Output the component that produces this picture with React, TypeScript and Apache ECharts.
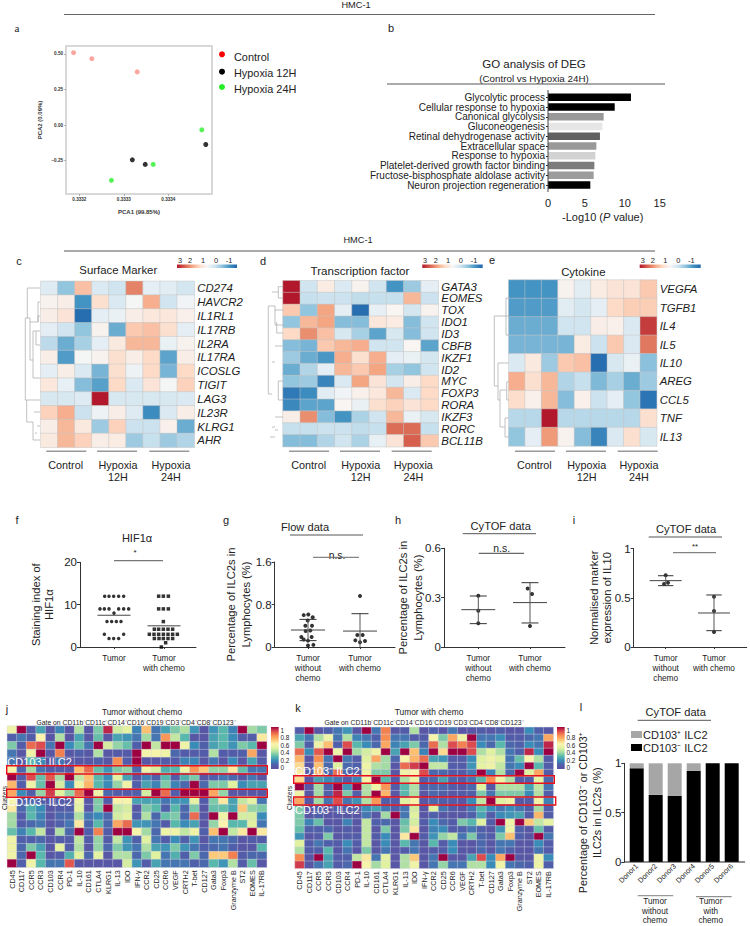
import React, { useEffect, useRef } from "react";
import * as echarts from "echarts";

const FONT = "'Liberation Sans', Arial, sans-serif";
const INK = "#222";

// ---------- a: PCA
const pcaControl = [[0.333187, 0.509], [0.333228, 0.467], [0.33333, 0.374]];
const pca12H = [[0.333319, -0.244], [0.333348, -0.276], [0.333484, -0.136]];
const pca24H = [[0.333475, -0.033], [0.333366, -0.276], [0.333272, -0.388]];
const pcaXTicks = [0.3332, 0.3333, 0.3334];
const pcaYTicks = [-0.25, 0, 0.25, 0.5];

// ---------- b: GO
const goTerms = ["Glycolytic process", "Cellular response to hypoxia", "Canonical glycolysis", "Gluconeogenesis", "Retinal dehydrogenase activity", "Extracellular space", "Response to hypoxia", "Platelet-derived growth factor binding", "Fructose-bisphosphate aldolase activity", "Neuron projection regeneration"];
const goValues = [9.9, 7.96, 6.64, 6.49, 6.2, 5.77, 5.65, 5.53, 5.45, 5.05];
const goShades = ["#000", "#000", "#999", "#e6e6e6", "#606060", "#999", "#d2d2d2", "#7c7c7c", "#9c9c9c", "#000"];

// ---------- c, d, e: heatmaps
const surfaceGenes = ["CD274", "HAVCR2", "IL1RL1", "IL17RB", "IL2RA", "IL17RA", "ICOSLG", "TIGIT", "LAG3", "IL23R", "KLRG1", "AHR"];
const surfaceValues = [
  [.4, -.4, 1.7, .35, .2, 2.3, .5, .45, .25],
  [.9, 1.0, -1.0, 1.3, .35, .75, 1.9, .2, .7],
  [1.0, 1.2, -1.5, .5, .6, 1.0, 1.15, 1.15, .95],
  [.5, .2, -.4, .9, -.7, 1.6, 1.7, 1.3, .5],
  [0, -.7, -.2, .5, 1.1, 1.8, 1.8, .6, .9],
  [1.0, -.9, .75, .9, 1.3, 1.0, 1.4, -.8, 1.0],
  [.5, 1.0, .35, -.6, 1.3, .65, 1.4, -.6, 1.4],
  [1.15, .55, -.5, -.85, 1.4, .35, 1.2, .75, 1.5],
  [.3, .3, .4, 3.2, .3, .3, .3, .3, .35],
  [1.5, 1.9, .15, .65, 1.0, .4, -1.1, .35, 1.0],
  [1.0, 1.8, 1.1, -.3, 1.5, .15, .15, .95, -.7],
  [1.1, 1.8, 1.5, 1.0, 1.05, -.3, .1, -.3, -.1],
];
const tfGenes = ["GATA3", "EOMES", "TOX", "IDO1", "ID3", "CBFB", "IKZF1", "ID2", "MYC", "FOXP3", "RORA", "IKZF3", "RORC", "BCL11B"];
const tfValues = [
  [3.2, .2, 1.05, .35, .9, .2, -1.0, -.3, .5],
  [3.2, .1, .15, .15, .05, .1, .1, 1.8, .15],
  [1.6, -.4, 2.0, .5, -1.5, .55, .85, .25, .9],
  [-.4, 1.8, 2.0, -.5, -.5, 1.15, 1.05, -.5, .2],
  [1.4, 2.2, 1.7, .3, -.2, -.8, .3, -.5, .2],
  [-.5, -.6, 1.6, 1.8, 1.9, .2, .2, .85, -.8],
  [-.3, -.7, -.95, 1.9, 1.3, 1.9, .5, .6, .25],
  [-.7, -.1, .5, 1.8, 1.6, 2.0, -.2, -.4, .2],
  [-.4, -.3, -1.2, .35, 2.0, 1.2, .25, 1.0, 1.4],
  [-1.35, -1.1, .45, .7, .95, 1.15, 1.8, .35, 1.4],
  [-1.15, -.8, -.8, .85, .6, 1.3, 1.5, 1.2, 1.4],
  [1.0, 2.2, -.5, -1.0, -.15, .2, 1.8, .6, .3],
  [.1, .1, .15, .15, .05, .1, 2.5, 2.5, .1],
  [-.5, -.5, -.1, .2, -.15, .55, 1.2, 2.6, 1.6],
];
const cytoGenes = ["VEGFA", "TGFB1", "IL4", "IL5", "IL10", "AREG", "CCL5", "TNF", "IL13"];
const cytoValues = [
  [-1.0, -1.0, -1.0, .9, .45, 1.05, 1.2, 1.2, 1.6],
  [-.9, -.9, -.9, .45, .25, .5, 1.4, 1.55, 1.55],
  [-.7, -.7, -.7, .2, .2, 1.0, .95, .35, 2.9],
  [-.6, -.6, -.6, -.6, 1.05, .15, 1.6, .35, 2.4],
  [.35, 1.1, -.3, 1.6, 1.7, -1.5, .3, .6, -.45],
  [1.9, 1.3, 1.8, -.1, .1, -.55, -.2, -.7, -.3],
  [1.35, .95, 1.8, -.5, .95, .15, .5, -.4, -1.4],
  [-.05, -.05, 3.2, -.05, -.05, -.05, -.05, -.05, 1.3],
  [-.4, .5, 2.1, .9, -.5, -1.2, .35, 1.3, .3],
];
const sampleColumns = ["C1", "C2", "C3", "H12-1", "H12-2", "H12-3", "H24-1", "H24-2", "H24-3"];
const heatTicks = ["3", "2", "1", "0", "-1"];
const zColors = ["#2166ac", "#4393c3", "#92c5de", "#d1e5f0", "#f7f7f7", "#fddbc7", "#f4a582", "#d6604d", "#b2182b"];

// ---------- f..i: dot plots
const fTumor = [[.813, 12], [.9, 12], [.993, 12], [1.093, 12], [1.193, 12], [.72, 9], [.807, 9], [.9, 9], [1.093, 9], [1.193, 9], [1.293, 9], [1, 8], [.86, 6], [.953, 6], [1.047, 6], [1.14, 6], [.807, 3], [1.193, 3], [.9, 2], [.993, 2], [1.093, 2]];
const fChemo = [[1.893, 12], [1.987, 12], [2.087, 12], [1.893, 9], [1.987, 9], [2.087, 9], [1.987, 6], [1.807, 4.2], [1.893, 4.2], [1.987, 4.2], [2.08, 4.2], [2.173, 4.2], [1.707, 3], [1.8, 3], [1.893, 3], [1.987, 3], [2.08, 3], [2.173, 3], [2.267, 3], [1.807, 2], [1.9, 2], [1.987, 2], [2.08, 2], [2.173, 2], [2.033, 1], [1.947, 0]];
const gTumor = [[.917, .6], [1.006, .61], [1.09, .56], [.994, .5], [.949, .4], [1.077, .4], [1.045, .31], [.955, .3], [.872, .19], [1.07, .19], [.917, .14], [1, .12], [1, .03], [1.103, .04]];
const gChemo = [[2, .96], [1.949, .226], [2.051, .226], [1.91, .125], [2.096, .113], [2, .088]];
const hTumor = [[1, .312], [1, .221], [1, .144]];
const hChemo = [[1.955, .355], [2.039, .322], [2, .128]];
const iTumor = [[1, .729], [.966, .64], [1.048, .654]];
const iChemo = [[2, .512], [2, .366], [2, .153]];
const fMeans = [7.5, 5];
const gMeans = [.32, .3];
const gHigh = [.52, .627];
const gLow = [.12, 0];
const hMeans = [.227, .27];
const hHigh = [.31, .391];
const hLow = [.142, .146];
const iMeans = [.675, .346];
const iHigh = [.725, .529];
const iLow = [.624, .166];
const groupsTwo = ["Tumor", "Tumor\nwith chemo"];
const groupsThree = ["Tumor\nwithout\nchemo", "Tumor\nwith chemo"];

// ---------- j, k: CyTOF heatmaps
const markersJ = ["CD45", "CD117", "CCR5", "CCR3", "CD103", "CCR4", "PD-1", "IL-10", "CD161", "CTLA4", "KLRG1", "IL-13", "IDO", "IFN-γ", "CCR2", "CD25", "CCR6", "VEGF", "CRTH2", "T-bet", "CD127", "Gata3", "Foxp3", "Granzyme B", "ST2", "EOMES", "IL-17RB"];
const jValues = [
  [.55, 1, .08, .25, .05, .18, .03, .42, .05, .35, .95, .47, .52, .18, .7, .15, .25, .35, .42, .22, .05, .22, .3, .18, 1, .4, .35],
  [.1, .15, .08, .6, .05, .42, .03, .25, .05, .32, .05, .25, .22, .15, .4, .15, .78, .45, .3, .05, .05, .25, .3, .2, .08, .08, .62],
  [.35, .08, .85, .9, .15, 1, .2, .32, .15, 1, .48, .38, .32, .1, 1, .45, 1, 1, .55, .2, .1, .25, .3, .22, .35, .3, 1],
  [.15, .05, .55, 1, .05, .82, .05, .1, .05, .42, .05, .07, .07, 1, .58, .58, .55, .12, .08, .08, .08, .42, .08, .08, .1, .75, .05],
  [.15, .05, .3, .2, .03, .15, .05, .05, .05, .1, .05, .8, .08, 1, .05, .05, .08, .08, .18, .18, .05, .15, .05, .2, .05, .25, .08],
  [.58, .12, .4, .15, .08, .08, .05, .7, .85, .32, .22, .35, .38, .12, .55, .48, .28, .3, .55, .78, .68, .38, .38, .62, .32, .15, .15],
  [1, .08, .9, .32, .88, .4, 1, .45, .7, .3, .2, .5, .25, .05, .18, .1, .3, .08, .28, .35, .05, .1, .15, .12, .05, .15, .05],
  [.72, .08, .55, .32, 1, .48, .2, .55, .72, .3, .2, .38, .55, .1, .25, .18, .35, .18, .12, 1, .12, .35, .35, .5, .2, .25, .25],
  [.75, .2, .1, .38, .92, .5, .38, .85, 1, .55, .12, .08, .07, .1, .48, 1, .85, .08, 1, 1, 1, .75, .38, .05, .05, .05, .05],
  [.58, .1, .12, .1, .05, .08, .05, .55, .05, .35, .08, .58, .58, .25, .25, .25, .15, .22, .22, .52, .08, .35, .62, .25, .45, .52, .15],
  [.62, .12, .28, .2, .05, .08, .08, .52, .05, .35, 1, .45, .48, .05, .35, .3, .1, .3, .12, .35, .05, .32, .32, .25, .68, .38, .35],
  [.4, .08, .3, .18, .05, .12, .12, .42, .15, .2, .12, .48, .52, .1, .42, .12, .32, .35, .12, .85, .05, 1, .55, 1, .48, .48, .2],
  [.4, .08, .12, .15, .05, .1, .15, .62, .12, .3, .12, .75, .85, .22, .22, .15, .08, .3, .2, .25, .05, .38, .6, .3, .3, .5, .15],
  [.32, .18, .3, .45, .05, .42, .12, 1, .1, .82, .08, 1, 1, .58, .4, .12, .55, .55, .45, .55, .1, .7, 1, .45, .62, 1, .62],
  [.55, .1, .1, .12, .05, .08, .08, .45, .08, .38, .08, .45, .22, .1, .5, .15, .08, .2, .1, .22, .05, .15, .15, .12, .05, .08, .08],
  [.55, .12, .35, .25, .05, .52, .08, .42, .05, .38, .12, .35, .22, .15, .42, .25, .22, .35, .22, .15, .1, .12, .15, .1, .05, .05, .3],
  [.55, .12, 1, .3, .05, .08, .28, .5, .12, .52, .05, .42, .42, .12, .35, .5, .15, .28, .1, .35, .12, .68, .68, .82, .08, .12, .12],
  [1, .1, .55, .3, .15, .15, .88, .05, .05, .05, .05, .05, .48, .22, .08, .25, .15, .15, .15, .1, .12, .3, .22, .42, .08, .32, .05],
];
const kValues = [
  [.08, 1, .05, .1, .15, .22, .05, 1, .15, .82, .05, .08, .42, .05, .1, .05, .15, .05, .05, .08, .05, .1, .05, .05, .2, .1, .05],
  [.25, .15, .42, .55, .15, .42, .18, .15, .1, .8, .15, .15, .08, .08, .58, .35, .75, .55, 1, .15, .15, .2, .08, .08, .12, .15, .75],
  [.35, .1, .55, .7, .1, .9, .3, .2, .12, .75, .18, .25, .35, .12, .85, .42, .9, .82, .9, .2, .12, .3, .12, .1, .2, .15, .95],
  [.85, .2, .88, 1, .55, 1, .4, .48, .55, 1, .25, 1, .7, .18, 1, .65, 1, 1, .9, .42, .5, .42, .15, .1, .95, .2, 1],
  [.72, .05, .8, .15, 1, .15, .08, .5, .75, .4, .12, .58, .72, .85, .25, .22, .08, .08, .2, .5, .55, .5, .15, .32, .6, .42, .08],
  [.65, .05, .7, .12, .5, .12, .1, .55, .42, .4, .05, .85, .92, 1, .45, .45, .08, .08, .22, .52, .55, .45, .15, .2, 1, .3, .08],
  [.62, .08, .72, .12, .85, .12, .08, .55, .35, .35, .05, .55, .6, .9, .12, .12, .08, .08, .15, 1, .18, .42, .12, 1, .5, .75, .08],
  [.65, .05, .25, .2, .15, .08, .18, .58, 1, .3, .08, .42, .55, .1, .12, .25, .12, .08, .15, .3, .8, .55, .42, .08, .1, .52, .12],
  [1, .05, .4, .1, 1, .22, 1, .42, .55, .78, .08, .3, .42, .1, .12, .12, .08, .05, .12, .5, .05, .42, .42, .42, .25, .45, .15],
  [.55, .05, .4, .1, .95, .35, .1, .42, 1, .72, .05, .3, .42, .05, .12, .1, .05, .08, .1, .35, .15, .35, .35, .35, .2, .42, .1],
  [.75, .05, .4, .15, .9, .15, .22, .42, .78, .1, .08, .5, .58, .05, .12, .1, .08, .05, .2, .45, 1, .5, .55, .05, .08, .55, .18],
  [.35, .05, .1, .05, .1, .1, .08, .2, .25, .15, .1, .15, .48, .05, .5, .15, .1, .05, .15, .3, .2, .15, .2, .15, .1, .4, .1],
  [.35, .05, .1, .05, .05, .05, .05, .15, .05, .4, 1, .15, .5, .05, .1, .05, .05, .05, .1, .25, .08, .2, .22, .25, .08, .72, .08],
  [.35, .18, .32, .05, .05, .18, .05, .45, .1, .12, .05, .32, .48, .08, .2, .12, .08, .35, .3, .5, .08, 1, .55, 1, .68, .45, .52],
  [.32, .1, .1, .12, .05, .08, .05, .45, .05, .35, .05, .35, .62, .05, .18, .2, .08, .1, .15, .1, .05, .22, .55, .1, .05, .32, .08],
  [.22, .05, .08, .35, .05, .08, .08, .45, .08, .2, .05, .62, 1, .08, .22, .38, .45, .15, .35, .12, .08, .35, .7, .1, .05, 1, .15],
  [.5, .08, .15, .1, .08, .2, .08, .45, .05, .2, .05, .3, .15, .05, .3, .08, .2, .05, .05, .12, .05, .15, .15, .05, .05, .2, .08],
  [.42, .08, .1, .3, .05, .15, .05, .35, .05, .15, .05, .08, .15, .05, .08, .08, .2, .05, .05, .12, .05, .15, .1, .05, .05, .15, .08],
  [.8, .05, 1, .25, .08, .1, .45, .62, .15, .52, .05, .42, .68, .05, .15, 1, .05, .05, .25, .9, .2, .75, 1, .05, .05, .55, .2],
  [.92, .05, .15, .25, .08, .12, 1, .58, .4, .5, .05, .42, .55, .05, .15, .38, .15, .15, .42, .42, .2, .55, .15, .12, .1, .55, .1],
];
const spectral = ["#5e4fa2", "#4f5faa", "#3a8cb8", "#58b8ac", "#a4dba4", "#e0f2a0", "#fbf3ae", "#fdc070", "#f88d52", "#dc4b4d", "#9e0142"];
const spectralTicks = ["1", "0.8", "0.6", "0.4", "0.2", "0"];

// ---------- l: stacked bars
const donors = ["Donor1", "Donor2", "Donor3", "Donor4", "Donor5", "Donor6"];
const cd103Neg = [.95, .68, .67, .925, 1, 1];
const cd103Pos = [.05, .32, .33, .075, 0, 0];

// ---------- layout helpers
const T = (text: string, x: number, y: number, size: number, o: any = {}) => {
  const { rotation, ...style } = o;
  return {
    type: "text", x, y, z: 20, silent: true, rotation: rotation || 0,
    style: { text, fontSize: size, fontFamily: FONT, fill: INK, textAlign: "center", textVerticalAlign: "middle", verticalAlign: "middle", ...style },
  };
};
const L = (x1: number, y1: number, x2: number, y2: number, stroke = "#555", lineWidth = 1) => ({
  type: "line", z: 20, silent: true, shape: { x1, y1, x2, y2 }, style: { stroke, lineWidth },
});
const P = (points: number[][], stroke = "#a8a8a8", lineWidth = 0.7) => ({
  type: "polyline", z: 20, silent: true, shape: { points }, style: { stroke, lineWidth, fill: "none" },
});
const flat = (rows: number[][]) => rows.flatMap((r, y) => r.map((v, x) => [x, y, v]));

function buildOption() {
  const grid: any[] = [], xAxis: any[] = [], yAxis: any[] = [], series: any[] = [];
  const addGrid = (g: any, x: any, y: any) => {
    const i = grid.length;
    grid.push({ ...g, containLabel: false });
    xAxis.push({ gridIndex: i, ...x });
    yAxis.push({ gridIndex: i, ...y });
    return i;
  };
  const g: any[] = [];

  // headers
  g.push(T("HMC-1", 356, 5, 9.2), L(64, 14.5, 655, 14.5, "#666", 1));
  g.push(T("HMC-1", 358, 240, 9.2), L(64, 251, 655, 251, "#555", 1));
  g.push(T("a", 17, 28, 11, { fontFamily: "'Liberation Serif', serif" }));
  [["b", 391, 28], ["c", 19, 261], ["d", 263, 261], ["e", 492, 260], ["f", 17, 520], ["g", 226, 520], ["h", 398, 520], ["i", 574, 520], ["j", 7, 709], ["k", 298, 708], ["l", 581, 707]].forEach(([t, x, y]: any) => g.push(T(t, x, y, 11)));

  // a
  const a = addGrid(
    { left: 66, top: 46, width: 146, height: 148, show: true, borderColor: "#ccc", borderWidth: 1.5 },
    { type: "value", min: 0.33317, max: 0.333498, axisLine: { show: false, onZero: false }, splitLine: { show: false }, axisTick: { customValues: pcaXTicks, length: 2, lineStyle: { color: "#777", width: .5 } }, axisLabel: { customValues: pcaXTicks, fontSize: 4.6, fontWeight: "bold", color: "#333", margin: 3, fontFamily: FONT, formatter: (v: number) => v.toFixed(4) } },
    { type: "value", min: -0.484, max: 0.556, axisLine: { show: false, onZero: false }, splitLine: { show: false }, axisTick: { customValues: pcaYTicks, length: 2, lineStyle: { color: "#777", width: .5 } }, axisLabel: { customValues: pcaYTicks, fontSize: 4.6, fontWeight: "bold", color: "#333", margin: 3, fontFamily: FONT, formatter: (v: number) => v.toFixed(2).replace("-", "−") } }
  );
  const pcaSeries: any[] = [[pcaControl, "#ff8f87"], [pca12H, "#000"], [pca24H, "#2bf02b"]];
  pcaSeries.forEach(([d, c]) => series.push({ type: "scatter", xAxisIndex: a, yAxisIndex: a, data: d, symbolSize: 5, itemStyle: { color: c } }));
  g.push(T("PCA1 (99.85%)", 139, 211.7, 6, { fontWeight: "bold", fill: "#333" }), T("PCA2 (0.09%)", 39.7, 120, 6, { fontWeight: "bold", fill: "#333", rotation: Math.PI / 2 }));
  const pcaLegend: any[] = [["Control", 54.3, 56.7, "#ff0000"], ["Hypoxia 12H", 71.7, 73, "#000"], ["Hypoxia 24H", 87, 89.3, "#22ee22"]];
  pcaLegend.forEach(([t, cy, ty, c]) => g.push({ type: "circle", z: 20, silent: true, shape: { cx: 222, cy, r: 3 }, style: { fill: c } }, T(t, 234, ty, 10.9, { textAlign: "left" })));

  // b
  const tickRich = (pad: number) => ({ fontSize: 11, fontFamily: FONT, color: INK, padding: [0, pad, 0, 0] });
  const b = addGrid(
    { left: 548, top: 92.4, width: 125.7, height: 97.5 },
    { type: "value", min: 0, max: 15, interval: 5, offset: 1.8, splitLine: { show: false }, axisLine: { lineStyle: { color: "#222", width: 1 }, onZero: false }, axisTick: { length: 2, lineStyle: { color: "#222" } }, axisLabel: { fontSize: 11, color: INK, margin: 6, fontFamily: FONT, formatter: (v: number) => `{s${v}|${v}}`, rich: { s0: tickRich(0), s5: tickRich(10), s10: tickRich(14), s15: tickRich(28) } } },
    { type: "category", inverse: true, data: goTerms, axisLine: { show: false }, axisTick: { show: true, length: 2, alignWithLabel: true, lineStyle: { color: "#222" } }, axisLabel: { fontSize: 10, lineHeight: 10, color: INK, margin: 3, interval: 0, fontFamily: FONT } }
  );
  series.push({ type: "bar", xAxisIndex: b, yAxisIndex: b, barWidth: 7.4, data: goValues.map((v, i) => ({ value: v, itemStyle: { color: goShades[i] } })) });
  g.push(L(548, 90, 548, 192, "#444", 1), T("GO analysis of DEG", 534, 64, 11.5), T("(Control vs Hypoxia 24H)", 534, 78, 9.8), L(387, 84, 665, 84, "#555", 1));
  g.push({ ...T("", 602.7, 217, 11), style: { ...T("", 0, 0, 11).style, text: "-Log10 ({i|P} value)", rich: { i: { fontStyle: "italic", fontSize: 11, fontFamily: FONT, fill: INK } } } });

  // c d e
  const zHeat: number[] = [];
  const heat = (left: number, top: number, w: number, h: number, genes: string[], values: number[][]) => {
    const i = addGrid(
      { left, top, width: w, height: h },
      { type: "category", data: sampleColumns, show: false },
      { type: "category", data: genes, inverse: true, position: "right", axisLine: { show: false }, axisTick: { show: false }, axisLabel: { fontSize: 11.4, fontStyle: "italic", color: INK, margin: 3, interval: 0, fontFamily: FONT } }
    );
    zHeat.push(series.length);
    series.push({ type: "heatmap", xAxisIndex: i, yAxisIndex: i, data: flat(values), itemStyle: { borderColor: "#c4c4c4", borderWidth: .5 } });
  };
  heat(40.7, 281.3, 153.6, 166, surfaceGenes, surfaceValues);
  heat(283, 280.7, 155.3, 166, tfGenes, tfValues);
  heat(508.7, 280, 148, 166, cytoGenes, cytoValues);

  const zBar = (x0: number, x1: number, ticks: number[]) => {
    g.push({ type: "rect", z: 20, silent: true, shape: { x: x0, y: 264.5, width: x1 - x0, height: 3.5 }, style: { fill: new echarts.graphic.LinearGradient(0, 0, 1, 0, [...zColors].reverse().map((color, i) => ({ offset: i / 8, color }))) } });
    ticks.forEach((x, i) => g.push(T(heatTicks[i], x, 260.5, 7.4)));
  };
  zBar(177, 237, [180, 190, 203, 216, 229]);
  zBar(422.3, 482.7, [425, 435.7, 448, 460.7, 474]);
  zBar(639.7, 700.7, [642.7, 652.7, 665.3, 678.3, 691.3]);
  g.push(T("Surface Marker", 118.3, 270, 11.4), T("Transcription factor", 360, 270, 11.6), T("Cytokine", 583.3, 271.7, 11.4));

  const groupRule = (starts: number[], centres: number[]) => {
    starts.forEach((s) => g.push(L(s, 451.3, s + 40, 451.3, "#999", 1.4)));
    g.push(T("Control", centres[0], 464.7, 10.8), T("Hypoxia", centres[1], 464.7, 10.8), T("12H", centres[1], 477, 10.8), T("Hypoxia", centres[2], 464.7, 10.8), T("24H", centres[2], 477, 10.8));
  };
  groupRule([46.3, 97, 149.3], [65.7, 118, 171]);
  groupRule([289, 340, 391.7], [308.7, 360.7, 413.3]);
  groupRule([515, 566, 617.7], [534.3, 586.7, 639]);

  // dendrograms
  g.push(
    P([[40, 288], [27.3, 288], [27.3, 318], [25.3, 318], [25.3, 400], [26.7, 400], [26.7, 422], [33, 422], [33, 440], [40, 440]]),
    P([[26.7, 400], [40, 400]]),
    P([[27, 318], [30, 318], [30, 360], [33, 360], [33, 378], [40, 378]]),
    P([[33, 360], [33, 331], [36, 331], [36, 345], [40, 345]]),
    P([[36, 331], [40, 331]]),
    P([[30, 322], [38, 322], [38, 316], [40, 316]]),
    P([[38, 322], [38, 302], [40, 302]]),
    P([[34, 412], [40, 412]]), P([[37, 426], [40, 426]]), P([[35, 433], [37, 433]]),
    P([[272, 292], [278.3, 292]]),
    P([[283, 286.7], [278.3, 286.7], [278.3, 298], [283, 298]]),
    P([[272, 306], [268.3, 306], [268.3, 394], [272, 394]]),
    P([[272, 306], [275, 306], [275, 325], [283, 325]]),
    P([[275, 310], [283, 310]]),
    P([[276.7, 322], [276.7, 333], [283, 333]]),
    P([[275, 346], [283, 346]]),
    P([[272, 362], [275, 362]]),
    P([[283, 381], [278.3, 381], [278.3, 400], [283, 400]]),
    P([[275, 417], [283, 417]]), P([[272, 427], [275, 427]]), P([[275, 430], [278, 430]]), P([[270, 437], [275, 437]]),
    P([[498, 386], [494.3, 386], [494.3, 316], [506, 316], [506, 298], [508.7, 298]]),
    P([[506, 316], [506, 335], [508.7, 335]]),
    P([[506, 316], [508.7, 316]]),
    P([[508.7, 363], [498, 363], [498, 400], [500, 400], [500, 390], [506.7, 390], [506.7, 382], [508.7, 382]]),
    P([[506.7, 390], [506.7, 400], [508.7, 400]]),
    P([[500, 400], [500, 427], [505, 427], [505, 418], [508.7, 418]]),
    P([[505, 427], [505, 437], [508.7, 437]]),
  );

  // dot plots
  const dotPanel = (c: any) => {
    const unit = c.px[1] - c.px[0];
    const i = addGrid(
      { left: c.left, top: c.top, width: c.width, height: c.height },
      { type: "value", min: 1 - (c.px[0] - c.left) / unit, max: 2 + (c.left + c.width - c.px[1]) / unit, splitLine: { show: false }, axisLine: { lineStyle: { color: "#333", width: 1 } }, axisTick: { customValues: [1, 2], length: 2, lineStyle: { color: "#333" } }, axisLabel: { customValues: [1, 2], fontSize: 8.3, lineHeight: 10, color: INK, margin: 6, fontFamily: FONT, formatter: (v: number) => c.labels[Math.round(v) - 1] } },
      { type: "value", min: 0, max: c.max, interval: c.interval, splitLine: { show: false }, name: c.name, nameLocation: "middle", nameRotate: 90, nameGap: c.nameGap, nameMoveOverlap: false, nameTextStyle: { fontSize: 11.2, lineHeight: c.nameLine || 14, color: INK, fontFamily: FONT }, axisLine: { show: true, lineStyle: { color: "#333", width: 1 } }, axisTick: { show: true, length: 3, lineStyle: { color: "#333" } }, axisLabel: { fontSize: 11.5, color: INK, margin: 3, fontFamily: FONT } }
    );
    const seg = (d: number[][], color = "#333", width = 1) => series.push({ type: "line", xAxisIndex: i, yAxisIndex: i, data: d, showSymbol: false, symbol: "none", lineStyle: { color, width } });
    series.push({ type: "scatter", xAxisIndex: i, yAxisIndex: i, data: c.a, symbol: "circle", symbolSize: c.size, itemStyle: { color: "#000" } });
    series.push({ type: "scatter", xAxisIndex: i, yAxisIndex: i, data: c.b, symbol: c.bSymbol || "circle", symbolSize: c.size, itemStyle: { color: "#000" } });
    const mw = c.meanHalf / unit, cw = (c.capHalf || 0) / unit;
    c.means.forEach((m: number, k: number) => {
      const x = k + 1;
      seg([[x - mw, m], [x + mw, m]], "#444", 1);
      if (c.high) {
        seg([[x, c.low[k]], [x, c.high[k]]], "#555", 1);
        seg([[x - cw, c.high[k]], [x + cw, c.high[k]]], "#333", 1);
        if (c.low[k] > 0) seg([[x - cw, c.low[k]], [x + cw, c.low[k]]], "#333", 1);
      }
    });
  };
  dotPanel({ left: 80, top: 562.3, width: 116, height: 84.7, px: [114, 164], max: 20, interval: 10, name: "Staining index of\nHIF1α", nameGap: 25, nameLine: 13, labels: groupsTwo, a: fTumor, b: fChemo, bSymbol: "rect", size: 3.5, means: fMeans, meanHalf: 16.5 });
  dotPanel({ left: 274.7, top: 562, width: 120.3, height: 85, px: [308, 360], max: 1.6, interval: 0.8, name: "Percentage of ILC2s in\nLymphocytes (%)", nameGap: 21, nameLine: 15, labels: groupsThree, a: gTumor, b: gChemo, size: 4, means: gMeans, high: gHigh, low: gLow, meanHalf: 17, capHalf: 8.5 });
  dotPanel({ left: 444, top: 548.3, width: 121, height: 98.7, px: [478.3, 530], max: 0.6, interval: 0.3, name: "Percentage of ILC2s in\nLymphocytes (%)", nameGap: 19, nameLine: 15, labels: groupsThree, a: hTumor, b: hChemo, size: 4, means: hMeans, high: hHigh, low: hLow, meanHalf: 17, capHalf: 8.5 });
  dotPanel({ left: 633.7, top: 548.7, width: 113, height: 98.3, px: [665.7, 714], max: 1, interval: 0.5, name: "Normalised marker\nexpression of IL10", nameGap: 20, nameLine: 13, labels: groupsThree, a: iTumor, b: iChemo, size: 4, means: iMeans, high: iHigh, low: iLow, meanHalf: 16, capHalf: 7.7 });
  g.push(T("HIF1α", 137, 537.7, 11), T("*", 135, 552, 8), L(114, 560.7, 163, 560.7, "#777", 1.3));
  g.push(T("Flow data", 305, 527, 11.1), L(290, 535, 363, 535, "#555", 1), T("n.s.", 337, 555, 10.4), L(313, 557.3, 359, 557.3, "#666", 1));
  g.push(T("CyTOF data", 500.7, 525.7, 11.1), L(462.7, 533.7, 536, 533.7, "#555", 1), T("n.s.", 501.7, 548, 10.4), L(478.7, 553.3, 524, 553.3, "#444", 1));
  g.push(T("CyTOF data", 686, 528.7, 11.1), L(648.7, 537, 722, 537, "#555", 1), T("**", 695, 546, 8), L(673, 552.7, 716, 552.7, "#666", 1));

  // j k
  const zSpectral: number[] = [];
  const cyto = (left: number, top: number, w: number, h: number, rows: number[][], barX: number) => {
    const i = addGrid(
      { left, top, width: w, height: h },
      { type: "category", data: markersJ, axisLine: { show: false }, axisTick: { show: false }, axisLabel: { rotate: 90, fontSize: 7.2, color: INK, margin: 3, interval: 0, fontFamily: FONT } },
      { type: "category", data: rows.map((_, k) => String(k + 1)), inverse: true, show: false }
    );
    zSpectral.push(series.length);
    series.push({ type: "heatmap", xAxisIndex: i, yAxisIndex: i, data: flat(rows), itemStyle: { borderColor: "#d8d8e0", borderWidth: .4 } });
    g.push({ type: "rect", z: 20, silent: true, shape: { x: barX, y: 727, width: 7.7, height: 42 }, style: { fill: new echarts.graphic.LinearGradient(0, 1, 0, 0, spectral.map((color, n) => ({ offset: n / 10, color }))) } });
    spectralTicks.forEach((t, n) => g.push(T(t, barX + 9.5, 730 + n * 7.55, 6.4, { textAlign: "left" })));
  };
  cyto(7.3, 726, 259.4, 141.3, jValues, 271);
  cyto(295, 727.3, 258.3, 141, kValues, 557);
  const gate = "Gate on CD11b⁻CD11c⁻CD14⁻CD16⁻CD19⁻CD3⁻CD4⁻CD8⁻CD123⁻";
  const box = (x0: number, x1: number, y0: number, y1: number) => ({ type: "rect", z: 21, silent: true, shape: { x: x0, y: y0, width: x1 - x0, height: y1 - y0 }, style: { fill: "none", stroke: "#e8101a", lineWidth: 1.4 } });
  g.push(T("Tumor without chemo", 142, 711.7, 8.4), T(gate, 136, 722.7, 6.8), T("Clusters", 4.5, 798, 6.6, { rotation: Math.PI / 2 }));
  g.push(T("Tumor with chemo", 429, 711.7, 8.4), T(gate, 424, 722, 6.8), T("Clusters", 289, 798, 6.6, { rotation: Math.PI / 2 }));
  g.push(box(6.7, 267.3, 765.7, 774), box(6.7, 267.3, 789.3, 797.3), box(293.7, 554.3, 775.7, 783.3), box(293.7, 555.7, 797, 805));
  g.push(T("CD103⁻ ILC2", 7.3, 761.7, 11, { textAlign: "left", fill: "#fff" }), T("CD103⁺ ILC2", 7.3, 801.7, 11, { textAlign: "left", fill: "#fff" }));
  g.push(T("CD103⁻ ILC2", 295, 770.7, 11, { textAlign: "left", fill: "#fff" }), T("CD103⁺ ILC2", 295, 810, 11, { textAlign: "left", fill: "#fff" }));

  // l
  const l = addGrid(
    { left: 627.2, top: 763.3, width: 114, height: 98.7 },
    { type: "category", data: donors, axisLine: { show: false }, axisTick: { alignWithLabel: true, length: 2, lineStyle: { color: "#333" } }, axisLabel: { rotate: 45, fontSize: 7.2, color: INK, margin: 3, interval: 0, fontFamily: FONT } },
    { type: "value", min: 0, max: 1, interval: 0.5, offset: 2.9, name: "Percentage of CD103⁻ or CD103⁺\nILC2s in ILC2s (%)", nameLocation: "middle", nameRotate: 90, nameGap: 21, nameMoveOverlap: false, nameTextStyle: { fontSize: 10.8, lineHeight: 13.5, color: INK, fontFamily: FONT }, splitLine: { show: false }, axisLine: { show: true, lineStyle: { color: "#333" } }, axisTick: { show: true, length: 3, lineStyle: { color: "#333" } }, axisLabel: { fontSize: 11.5, color: INK, margin: 3, fontFamily: FONT } }
  );
  series.push({ type: "bar", xAxisIndex: l, yAxisIndex: l, stack: "l", barWidth: 14, data: cd103Neg, itemStyle: { color: "#000" } });
  series.push({ type: "bar", xAxisIndex: l, yAxisIndex: l, stack: "l", barWidth: 14, data: cd103Pos, itemStyle: { color: "#a6a6a6" } });
  g.push(L(624, 862, 745, 862, "#222", 1));
  g.push(T("CyTOF data", 675.7, 712.3, 11.1), L(637.7, 720.3, 711, 720.3, "#555", 1));
  g.push({ type: "rect", z: 20, silent: true, shape: { x: 631, y: 731, width: 11, height: 7 }, style: { fill: "#a6a6a6" } }, T("CD103⁺ ILC2", 643, 735, 11, { textAlign: "left" }));
  g.push({ type: "rect", z: 20, silent: true, shape: { x: 631, y: 744, width: 11, height: 7 }, style: { fill: "#000" } }, T("CD103⁻ ILC2", 643, 747.7, 11, { textAlign: "left" }));
  g.push(L(637.7, 895.7, 673.3, 895.7, "#999", 1.2), L(696, 896.7, 731.7, 896.7, "#777", 1));
  ["Tumor", "without", "chemo"].forEach((t, n) => g.push(T(t, 655, 901.5 + n * 9.6, 8.2)));
  ["Tumor", "with", "chemo"].forEach((t, n) => g.push(T(t, 710.7, 901.5 + n * 9.6, 8.2)));

  return {
    animation: false,
    backgroundColor: "#fff",
    textStyle: { fontFamily: FONT },
    grid, xAxis, yAxis, series,
    visualMap: [
      { show: false, type: "continuous", seriesIndex: zHeat, min: -1.6, max: 3.2, inRange: { color: zColors } },
      { show: false, type: "continuous", seriesIndex: zSpectral, min: 0, max: 1, inRange: { color: spectral } },
    ],
    graphic: { elements: g },
  };
}

export default function App() {
  const ref = useRef<HTMLDivElement>(null);
  useEffect(() => {
    const chart = echarts.init(ref.current!, undefined, { renderer: "svg" });
    chart.setOption(buildOption() as any);
    return () => chart.dispose();
  }, []);
  return <div ref={ref} style={{ position: "absolute", left: 0, top: 0, width: 750, height: 926 }} />;
}
